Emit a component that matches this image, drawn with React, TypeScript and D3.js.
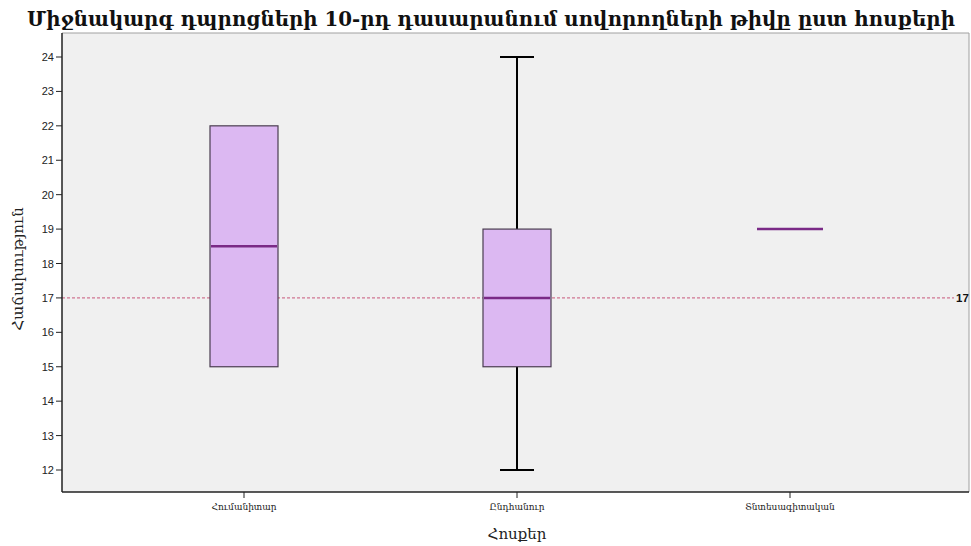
import React from "react";
import * as d3 from "d3";

const categories = ["Հումանիտար", "Ընդհանուր", "Տնտեսագիտական"];
const q1 = [15, 15, 19];
const medians = [18.5, 17, 19];
const q3 = [22, 19, 19];
const whiskerLow = [15, 12, 19];
const whiskerHigh = [22, 24, 19];
const yTicks = [12, 13, 14, 15, 16, 17, 18, 19, 20, 21, 22, 23, 24];
const refValue = 17;

const title = "Միջնակարգ դպրոցների 10-րդ դասարանում սովորողների թիվը ըստ հոսքերի";
const yTitle = "Հաճախություն";
const xTitle = "Հոսքեր";

export default function App() {
  const W = 971, H = 546;
  const plot = { left: 62, right: 969, top: 33, bottom: 492 };
  const y = d3.scaleLinear().domain([12, 24]).range([470, 57]);
  const x = d3.scalePoint<string>().domain(categories).range([244, 790]);
  const boxW = 68;
  const capW = 34;
  const armenian = "'DejaVu Serif', serif";
  const sans = "'Liberation Sans', Arial, sans-serif";

  return (
    <svg width={W} height={H} style={{ position: "absolute", left: 0, top: 0, background: "#fff" }}>
      <rect x={0} y={0} width={W} height={H} fill="#ffffff" />
      <text x={491} y={26} textAnchor="middle" fontFamily={armenian} fontWeight="bold" fontSize={19.5}
        textLength={928} lengthAdjust="spacingAndGlyphs" fill="#111">
        {title}
      </text>
      <rect x={plot.left} y={plot.top} width={plot.right - plot.left} height={plot.bottom - plot.top} fill="#f0f0f0" />
      <line x1={plot.left} x2={plot.right} y1={plot.top} y2={plot.top} stroke="#a0a0a0" strokeWidth={1} />
      <line x1={plot.right} x2={plot.right} y1={plot.top} y2={plot.bottom} stroke="#a0a0a0" strokeWidth={1} />
      {/* reference line */}
      <line x1={plot.left} x2={954} y1={y(refValue)} y2={y(refValue)} stroke="#c8577a" strokeWidth={1} strokeDasharray="3,2" />
      <text x={956} y={y(refValue) + 4} fontFamily={sans} fontWeight="bold" fontSize={11.5} fill="#111">{refValue}</text>
      {categories.map((c, i) => {
        const cx = x(c)!;
        return (
          <g key={c}>
            {whiskerHigh[i] > q3[i] && (
              <>
                <line x1={cx} x2={cx} y1={y(q3[i])} y2={y(whiskerHigh[i])} stroke="#000" strokeWidth={2} />
                <line x1={cx - capW / 2} x2={cx + capW / 2} y1={y(whiskerHigh[i])} y2={y(whiskerHigh[i])} stroke="#000" strokeWidth={2} />
              </>
            )}
            {whiskerLow[i] < q1[i] && (
              <>
                <line x1={cx} x2={cx} y1={y(q1[i])} y2={y(whiskerLow[i])} stroke="#000" strokeWidth={2} />
                <line x1={cx - capW / 2} x2={cx + capW / 2} y1={y(whiskerLow[i])} y2={y(whiskerLow[i])} stroke="#000" strokeWidth={2} />
              </>
            )}
            {q3[i] > q1[i] && (
              <rect x={cx - boxW / 2} y={y(q3[i])} width={boxW} height={y(q1[i]) - y(q3[i])} fill="#dcb8f2" stroke="#4a3d50" strokeWidth={1.2} />
            )}
            <line x1={cx - boxW / 2 + 1} x2={cx + boxW / 2 - 1} y1={y(medians[i])} y2={y(medians[i])} stroke="#7a2a86" strokeWidth={2.5} />
          </g>
        );
      })}
      {/* axes */}
      <line x1={plot.left} x2={plot.left} y1={plot.top} y2={plot.bottom} stroke="#222" strokeWidth={1.5} />
      <line x1={plot.left} x2={plot.right} y1={plot.bottom} y2={plot.bottom} stroke="#222" strokeWidth={1.5} />
      {yTicks.map((t) => (
        <g key={t}>
          <line x1={plot.left - 6} x2={plot.left} y1={y(t)} y2={y(t)} stroke="#222" strokeWidth={1} />
          <text x={plot.left - 8} y={y(t) + 4} textAnchor="end" fontFamily={sans} fontSize={11} fill="#222">{t}</text>
        </g>
      ))}
      {categories.map((c) => (
        <g key={c}>
          <line x1={x(c)!} x2={x(c)!} y1={plot.bottom} y2={plot.bottom + 6} stroke="#222" strokeWidth={1} />
          <text x={x(c)!} y={plot.bottom + 18} textAnchor="middle" fontFamily={armenian} fontSize={9} fill="#222">{c}</text>
        </g>
      ))}
      <text x={517} y={539} textAnchor="middle" fontFamily={armenian} fontSize={15} fill="#222">{xTitle}</text>
      <text transform={`translate(23, 269) rotate(-90)`} textAnchor="middle" fontFamily={armenian} fontSize={15} fill="#222">{yTitle}</text>
    </svg>
  );
}
